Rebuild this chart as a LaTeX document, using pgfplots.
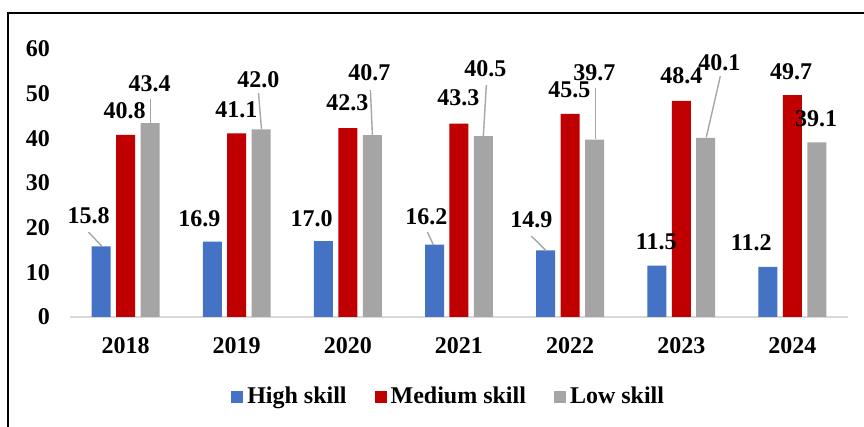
\documentclass[border=0pt]{standalone}
\usepackage{fontspec}
\setmainfont{Liberation Serif}
\usepackage{pgfplots}
\pgfplotsset{compat=1.18}
\definecolor{hiblue}{HTML}{4472C4}
\definecolor{medred}{HTML}{C00000}
\definecolor{lowgray}{HTML}{A5A5A5}
\definecolor{axisgray}{HTML}{D9D9D9}
\definecolor{leadgray}{HTML}{A6A6A6}
\newcommand\lbl{\fontsize{12}{14}\selectfont\bfseries}

% bar values
\pgfplotstableread{
x y
0 15.8
1 16.9
2 17.0
3 16.2
4 14.9
5 11.5
6 11.2
}\highskill
\pgfplotstableread{
x y
0 40.8
1 41.1
2 42.3
3 43.3
4 45.5
5 48.4
6 49.7
}\mediumskill
\pgfplotstableread{
x y
0 43.4
1 42.0
2 40.7
3 40.5
4 39.7
5 40.1
6 39.1
}\lowskill
% label positions (as placed in the original chart)
\pgfplotstableread{
x y v
-0.333 22.6 15.8
-0.009 46.3 40.8
0.216 52.3 43.4
0.665 22.1 16.9
0.998 46.3 41.1
1.196 53.2 42.0
1.673 22.1 17.0
1.996 47.9 42.3
2.194 54.8 40.7
2.707 22.4 16.2
2.995 49.0 43.3
3.237 55.7 40.5
3.651 21.7 14.9
3.993 50.8 45.5
4.218 54.8 39.7
4.775 16.8 11.5
5.000 54.1 48.4
5.342 57.0 40.1
5.629 16.6 11.2
5.989 55.0 49.7
6.214 44.3 39.1
}\labels

\begin{document}
\begin{tikzpicture}
\useasboundingbox (-35pt,-55pt) rectangle (397pt,158.5pt);
\clip (-35pt,-55pt) rectangle (397pt,158.5pt);
\draw[line width=0.8pt] (-31pt,-80pt) rectangle (420pt,152pt);
\begin{axis}[
  scale only axis,
  width=389pt, height=134pt,
  xmin=-0.5, xmax=6.5, ymin=0, ymax=60,
  xtick={0,...,6},
  xticklabels={2018,2019,2020,2021,2022,2023,2024},
  ytick={0,10,...,60},
  axis lines*=left,
  y axis line style={draw=none},
  x axis line style={color=axisgray, line width=1pt},
  major tick length=0pt,
  tick label style={font=\lbl},
  /pgf/number format/assume math mode=true,
  yticklabel style={xshift=-6.5pt},
  xticklabel style={yshift=-6.5pt},
  clip=false,
  legend style={at={(0.488,-0.299)}, anchor=center, draw=none, font=\lbl,
    legend columns=3, /tikz/every even column/.append style={column sep=12pt}},
  legend image code/.code={\fill[#1,/tikz/.cd] (0pt,-3pt) rectangle (6pt,3pt);},
]
\addplot[ybar, bar width=0.171, bar shift=-0.22, fill=hiblue, draw=none] table {\highskill};
\addplot[ybar, bar width=0.171, bar shift=0, fill=medred, draw=none] table {\mediumskill};
\addplot[ybar, bar width=0.171, bar shift=0.22, fill=lowgray, draw=none] table {\lowskill};
\legend{High skill, Medium skill, Low skill}

% leader lines
\addplot[leadgray, line width=0.7pt, forget plot] coordinates {(-0.333,19.0) (-0.216,15.9)};
\addplot[leadgray, line width=0.7pt, forget plot] coordinates {(0.225,48.8) (0.225,43.4)};
\addplot[leadgray, line width=0.7pt, forget plot] coordinates {(1.196,50.1) (1.223,42.1)};
\addplot[leadgray, line width=0.7pt, forget plot] coordinates {(2.203,50.8) (2.221,40.8)};
\addplot[leadgray, line width=0.7pt, forget plot] coordinates {(2.716,19.0) (2.770,16.1)};
\addplot[leadgray, line width=0.7pt, forget plot] coordinates {(3.246,51.9) (3.219,40.5)};
\addplot[leadgray, line width=0.7pt, forget plot] coordinates {(3.651,18.1) (3.786,14.8)};
\addplot[leadgray, line width=0.7pt, forget plot] coordinates {(4.227,51.2) (4.227,39.8)};
\addplot[leadgray, line width=0.7pt, forget plot] coordinates {(5.351,53.9) (5.225,40.2)};

% data labels
\addplot[draw=none, mark=none, forget plot, nodes near coords,
  point meta=explicit symbolic,
  every node near coord/.append style={anchor=center, font=\lbl, inner sep=0pt}]
  table[meta=v] {\labels};
\end{axis}
\end{tikzpicture}
\end{document}
